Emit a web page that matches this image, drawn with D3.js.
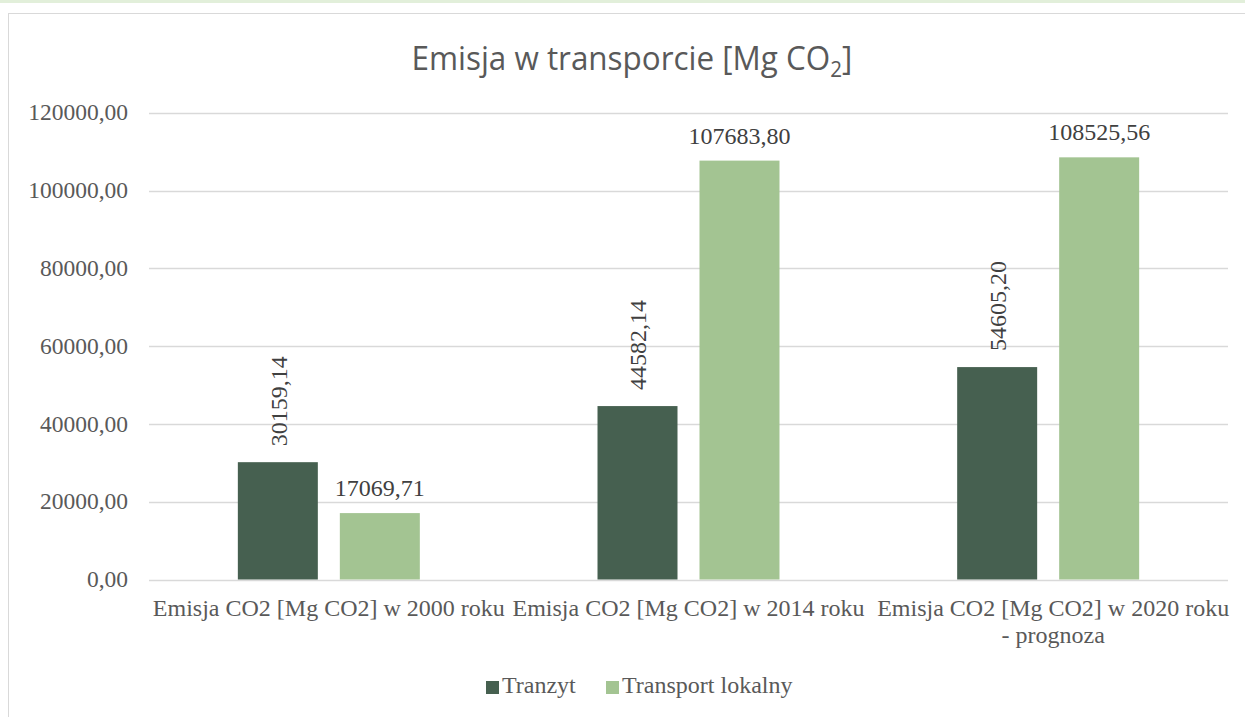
<!DOCTYPE html>
<html>
<head>
<meta charset="utf-8">
<script src="https://cdn.jsdelivr.net/npm/d3@7"></script>
<style>
  body { margin: 0; background: #fff; }
  svg { display: block; }
</style>
</head>
<body>
<div id="chart"></div>
<script>
const categories = [
  ['Emisja CO2 [Mg CO2] w 2000 roku'],
  ['Emisja CO2 [Mg CO2] w 2014 roku'],
  ['Emisja CO2 [Mg CO2] w 2020 roku', '- prognoza']
];
const seriesNames = ['Tranzyt', 'Transport lokalny'];
const tranzyt = [30159.14, 44582.14, 54605.20];
const lokalny = [17069.71, 107683.80, 108525.56];
const yTicks = [0, 20000, 40000, 60000, 80000, 100000, 120000];
const colors = ['#466050', '#a3c492'];

const W = 1245, H = 717;
const fmt = v => d3.format('.2f')(v).replace('.', ',');
const serif = '"Liberation Serif", "Times New Roman", serif';

const svg = d3.select('#chart').append('svg')
  .attr('width', W)
  .attr('height', H);

// thin strip at the very top and the chart frame
svg.append('rect').attr('x', 0).attr('y', 0).attr('width', W).attr('height', 3).attr('fill', '#e2efda');
svg.append('rect')
  .attr('x', 8.5).attr('y', 13.5)
  .attr('width', W).attr('height', H)
  .attr('fill', '#fff')
  .attr('stroke', '#d9d9d9');

const x0 = d3.scaleBand()
  .domain(d3.range(categories.length))
  .range([149, 1228]);

const x1 = d3.scaleBand()
  .domain(seriesNames)
  .range([0, x0.bandwidth()])
  .paddingInner(0.2157)
  .paddingOuter(0.871);

const y = d3.scaleLinear()
  .domain([0, 120000])
  .range([579.5, 112.7]);

// gridlines
svg.append('g')
  .selectAll('line')
  .data(yTicks)
  .enter()
  .append('line')
    .attr('x1', 149).attr('x2', 1228)
    .attr('y1', d => Math.round(y(d)) + 0.5)
    .attr('y2', d => Math.round(y(d)) + 0.5)
    .attr('stroke', '#d9d9d9')
    .attr('stroke-width', 1.5);

// y labels
svg.append('g')
  .selectAll('text')
  .data(yTicks)
  .enter()
  .append('text')
    .attr('x', 128)
    .attr('y', d => y(d))
    .attr('dy', '0.33em')
    .attr('text-anchor', 'end')
    .attr('font-family', serif)
    .attr('font-size', 23.5)
    .attr('fill', '#595959')
    .text(fmt);

const rows = categories.map((c, i) => ({ i, values: [tranzyt[i], lokalny[i]] }));

const groups = svg.append('g')
  .selectAll('g')
  .data(rows)
  .enter()
  .append('g')
    .attr('transform', d => `translate(${x0(d.i)},0)`);

groups.selectAll('rect')
  .data(d => d.values.map((v, s) => ({ v, s })))
  .enter()
  .append('rect')
    .attr('x', d => x1(seriesNames[d.s]))
    .attr('width', x1.bandwidth())
    .attr('y', d => y(d.v))
    .attr('height', d => y(0) - y(d.v))
    .attr('fill', d => colors[d.s]);

// data labels: Tranzyt rotated, local horizontal
groups.each(function(d) {
  const g = d3.select(this);
  const cx0 = x1(seriesNames[0]) + x1.bandwidth() / 2;
  const cx1 = x1(seriesNames[1]) + x1.bandwidth() / 2;

  g.append('text')
    .attr('transform', `translate(${cx0 + 1},${y(d.values[0]) - 16}) rotate(-90)`)
    .attr('dy', '0.33em')
    .attr('font-family', serif)
    .attr('font-size', 24)
    .attr('fill', '#404040')
    .text(fmt(d.values[0]));

  g.append('text')
    .attr('x', cx1)
    .attr('y', y(d.values[1]) - 17)
    .attr('text-anchor', 'middle')
    .attr('font-family', serif)
    .attr('font-size', 24)
    .attr('fill', '#404040')
    .text(fmt(d.values[1]));
});

// category labels
const catText = svg.append('g')
  .selectAll('text')
  .data(categories)
  .enter()
  .append('text')
    .attr('text-anchor', 'middle')
    .attr('font-family', serif)
    .attr('font-size', 24)
    .attr('fill', '#595959');

catText.selectAll('tspan')
  .data((d, i) => d.map(line => ({ line, i })))
  .enter()
  .append('tspan')
    .attr('x', d => x0(d.i) + x0.bandwidth() / 2 + (d.i === 2 ? 5 : 0))
    .attr('y', (d, j) => 616 + j * 27)
    .text(d => d.line);

// title
const title = svg.append('text')
  .attr('x', 0)
  .attr('y', 0)
  .attr('font-family', '"Open Sans", sans-serif')
  .attr('font-size', 32)
  .attr('fill', '#595959');
title.append('tspan').text('Emisja w transporcie [Mg CO');
title.append('tspan').attr('font-size', 21).attr('dy', 7).text('2');
title.append('tspan').attr('dy', -7).text(']');
const tw = title.node().getBBox().width;
const sx = 441 / tw;
title.attr('transform', `translate(${632 - 441 / 2},70) scale(${sx},1)`);

// legend
const legendX = [486, 606];
const legend = svg.append('g')
  .selectAll('g')
  .data(seriesNames)
  .enter()
  .append('g')
    .attr('transform', (d, i) => `translate(${legendX[i]},681)`);

legend.append('rect')
  .attr('width', 13)
  .attr('height', 13)
  .attr('fill', (d, i) => colors[i]);

legend.append('text')
  .attr('x', 16)
  .attr('y', 12)
  .attr('font-family', serif)
  .attr('font-size', 24)
  .attr('fill', '#595959')
  .text(d => d);
</script>
</body>
</html>
